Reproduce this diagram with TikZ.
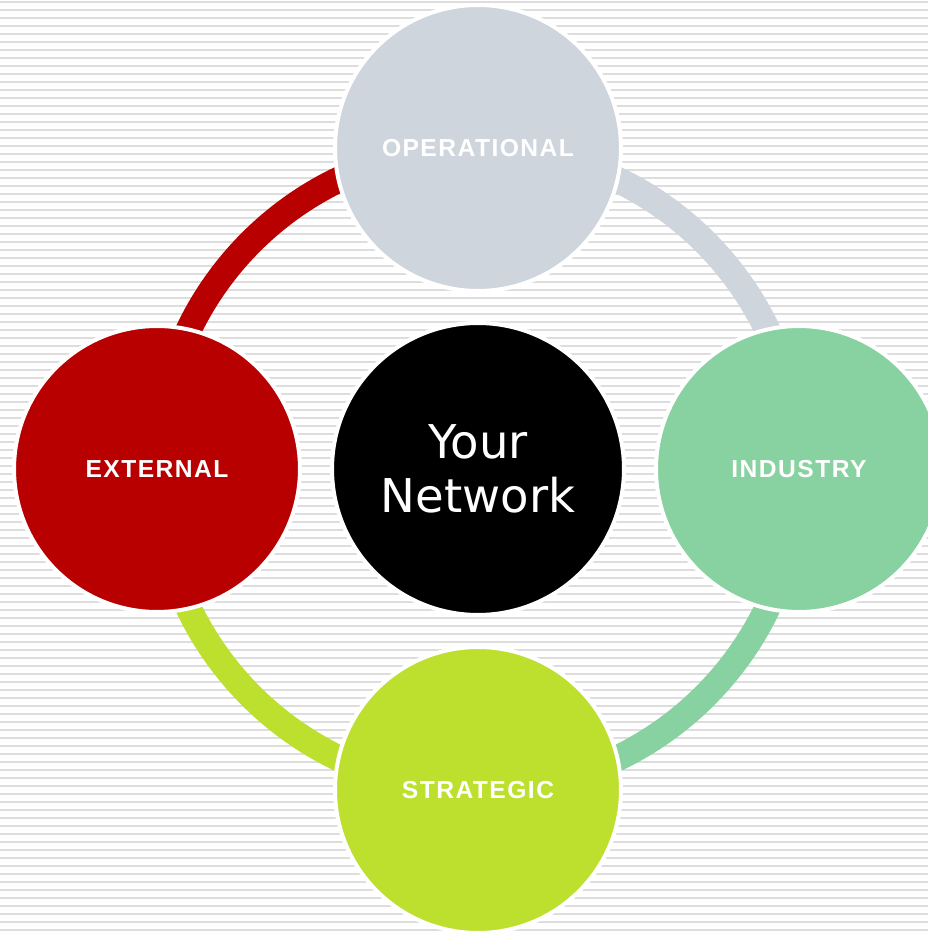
\documentclass[tikz,border=0pt]{standalone}
\usepackage{fontspec}
\setmainfont{Liberation Sans}
\newfontfamily\hubfont{DejaVu Sans}
\newfontfamily\labfont{Liberation Sans}[LetterSpace=6]
\usepackage{xcolor}
\usepackage{tikz}
\definecolor{Cgrey}{HTML}{CFD5DD}
\definecolor{Cred}{HTML}{B80000}
\definecolor{Cgreen}{HTML}{88D1A0}
\definecolor{Clime}{HTML}{BDDF2E}
\definecolor{Cstripe}{HTML}{DDDDDD}

\begin{document}
\begin{tikzpicture}[x=0.02cm,y=0.02cm]
\tikzstyle{sat}=[draw=white,line width=0.08cm,shape=circle,minimum size=5.72cm,inner sep=0pt,text=white,font=\labfont\bfseries\fontsize{14}{16}\selectfont]
\tikzstyle{hub}=[draw=white,line width=0.08cm,shape=circle,minimum size=5.84cm,inner sep=0pt,fill=black,text=white,align=center,font=\hubfont\fontsize{26.5}{30.6}\selectfont]
\tikzstyle{ring}=[line width=0.52cm]

\useasboundingbox (-478,-463) rectangle (450,469);
\clip (-478,-463) rectangle (450,469);
\fill[white] (-478,-463) rectangle (450,469);
\foreach \k in {0,...,116}
  \draw[Cstripe,line width=0.045cm] (-478,467-8*\k) -- (450,467-8*\k);
%
\coordinate (opsc) at (0,321);
\coordinate (indc) at (321,0);
\coordinate (strc) at (0,-321);
\coordinate (extc) at (-321,0);
%
\draw[ring,Cgrey] (opsc) arc[start angle=90,end angle=0,radius=321];
\draw[ring,Cgreen] (indc) arc[start angle=0,end angle=-90,radius=321];
\draw[ring,Clime] (strc) arc[start angle=-90,end angle=-180,radius=321];
\draw[ring,Cred] (extc) arc[start angle=180,end angle=90,radius=321];
%
\node[hub](net) at (0,0){Your\\Network};
\node[sat,fill=Cgrey](ops) at (opsc){OPERATIONAL};
\node[sat,fill=Cgreen](ind) at (indc){INDUSTRY};
\node[sat,fill=Clime](str) at (strc){STRATEGIC};
\node[sat,fill=Cred](ext) at (extc){EXTERNAL};
\end{tikzpicture}
\end{document}
